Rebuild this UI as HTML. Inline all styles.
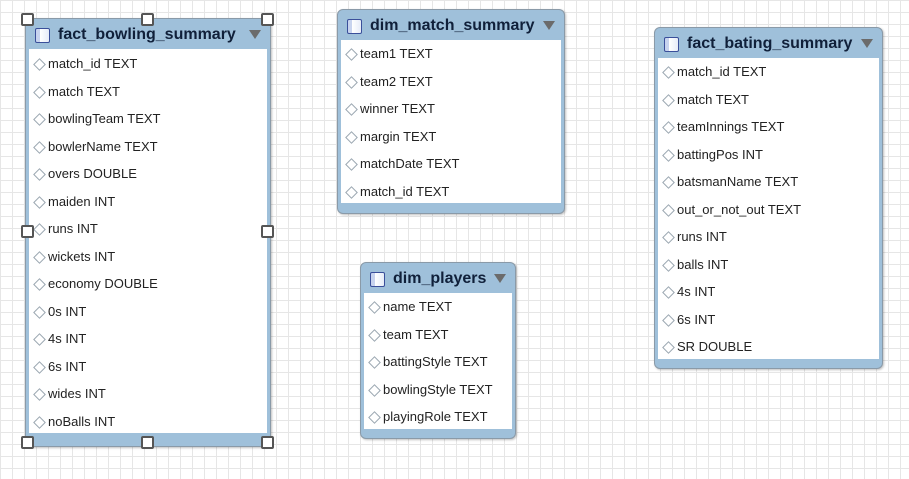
<!DOCTYPE html>
<html><head><meta charset="utf-8"><style>
html,body{margin:0;padding:0;}
body{width:909px;height:479px;overflow:hidden;position:relative;background-color:#fff;
background-image:linear-gradient(#e6e6e6 1px,transparent 1px),linear-gradient(90deg,#e6e6e6 1px,transparent 1px);
background-size:12px 12px;font-family:"Liberation Sans",sans-serif;}
.t{position:absolute;background:#9fc0da;border:1px solid #8a9aa8;border-radius:6px;box-sizing:border-box;box-shadow:1px 1px 2px rgba(0,0,0,.25);}
.h{position:absolute;left:0;right:0;top:0;height:30px;}
.ic{position:absolute;left:9px;top:9px;width:13px;height:13px;border:1px solid #3a4f9a;border-radius:2px;
background:linear-gradient(90deg,#c7d3ee 0,#c7d3ee 30%,#fff 30%,#e6ecf8 100%);}
.ti{position:absolute;left:32px;top:7px;font-weight:bold;font-size:16px;color:#10203a;white-space:nowrap;}
.ar{position:absolute;right:9px;top:11px;width:0;height:0;border-left:6px solid transparent;border-right:6px solid transparent;border-top:9px solid #6b6b6b;}
.b{position:absolute;left:3px;right:3px;background:#fff;}
.r{position:absolute;left:5px;font-size:13px;color:#222;white-space:nowrap;line-height:16px;}
.r:before{content:"";display:inline-block;width:7px;height:7px;border:1px solid #9aa6b0;transform:rotate(45deg);margin:0 4px 1px 1px;vertical-align:middle;}
.hd{position:absolute;width:9px;height:9px;border:2px solid #555;border-radius:2px;background:#fff;}
</style></head><body>

<div class="t" style="left:25px;top:18px;width:246px;height:429px;">
 <div class="h"><div class="ic"></div><div class="ti">fact_bowling_summary</div><div class="ar"></div></div>
 <div class="b" style="top:30px;height:384px;">
  <div class="r" style="top:7px">match_id TEXT</div>
  <div class="r" style="top:35px">match TEXT</div>
  <div class="r" style="top:62px">bowlingTeam TEXT</div>
  <div class="r" style="top:90px">bowlerName TEXT</div>
  <div class="r" style="top:117px">overs DOUBLE</div>
  <div class="r" style="top:145px">maiden INT</div>
  <div class="r" style="top:172px">runs INT</div>
  <div class="r" style="top:200px">wickets INT</div>
  <div class="r" style="top:227px">economy DOUBLE</div>
  <div class="r" style="top:255px">0s INT</div>
  <div class="r" style="top:282px">4s INT</div>
  <div class="r" style="top:310px">6s INT</div>
  <div class="r" style="top:337px">wides INT</div>
  <div class="r" style="top:365px">noBalls INT</div>
 </div>
</div>
<div class="hd" style="left:21px;top:13px"></div><div class="hd" style="left:141px;top:13px"></div><div class="hd" style="left:261px;top:13px"></div>
<div class="hd" style="left:21px;top:225px"></div><div class="hd" style="left:261px;top:225px"></div>
<div class="hd" style="left:21px;top:436px"></div><div class="hd" style="left:141px;top:436px"></div><div class="hd" style="left:261px;top:436px"></div>

<div class="t" style="left:337px;top:9px;width:228px;height:205px;">
 <div class="h"><div class="ic"></div><div class="ti">dim_match_summary</div><div class="ar"></div></div>
 <div class="b" style="top:30px;height:163px;">
  <div class="r" style="top:6px">team1 TEXT</div>
  <div class="r" style="top:34px">team2 TEXT</div>
  <div class="r" style="top:61px">winner TEXT</div>
  <div class="r" style="top:89px">margin TEXT</div>
  <div class="r" style="top:116px">matchDate TEXT</div>
  <div class="r" style="top:144px">match_id TEXT</div>
 </div>
</div>

<div class="t" style="left:654px;top:27px;width:229px;height:342px;">
 <div class="h"><div class="ic"></div><div class="ti">fact_bating_summary</div><div class="ar"></div></div>
 <div class="b" style="top:30px;height:301px;">
  <div class="r" style="top:6px">match_id TEXT</div>
  <div class="r" style="top:34px">match TEXT</div>
  <div class="r" style="top:61px">teamInnings TEXT</div>
  <div class="r" style="top:89px">battingPos INT</div>
  <div class="r" style="top:116px">batsmanName TEXT</div>
  <div class="r" style="top:144px">out_or_not_out TEXT</div>
  <div class="r" style="top:171px">runs INT</div>
  <div class="r" style="top:199px">balls INT</div>
  <div class="r" style="top:226px">4s INT</div>
  <div class="r" style="top:254px">6s INT</div>
  <div class="r" style="top:281px">SR DOUBLE</div>
 </div>
</div>

<div class="t" style="left:360px;top:262px;width:156px;height:177px;">
 <div class="h"><div class="ic"></div><div class="ti">dim_players</div><div class="ar"></div></div>
 <div class="b" style="top:30px;height:136px;">
  <div class="r" style="top:6px">name TEXT</div>
  <div class="r" style="top:34px">team TEXT</div>
  <div class="r" style="top:61px">battingStyle TEXT</div>
  <div class="r" style="top:89px">bowlingStyle TEXT</div>
  <div class="r" style="top:116px">playingRole TEXT</div>
 </div>
</div>
</body></html>
